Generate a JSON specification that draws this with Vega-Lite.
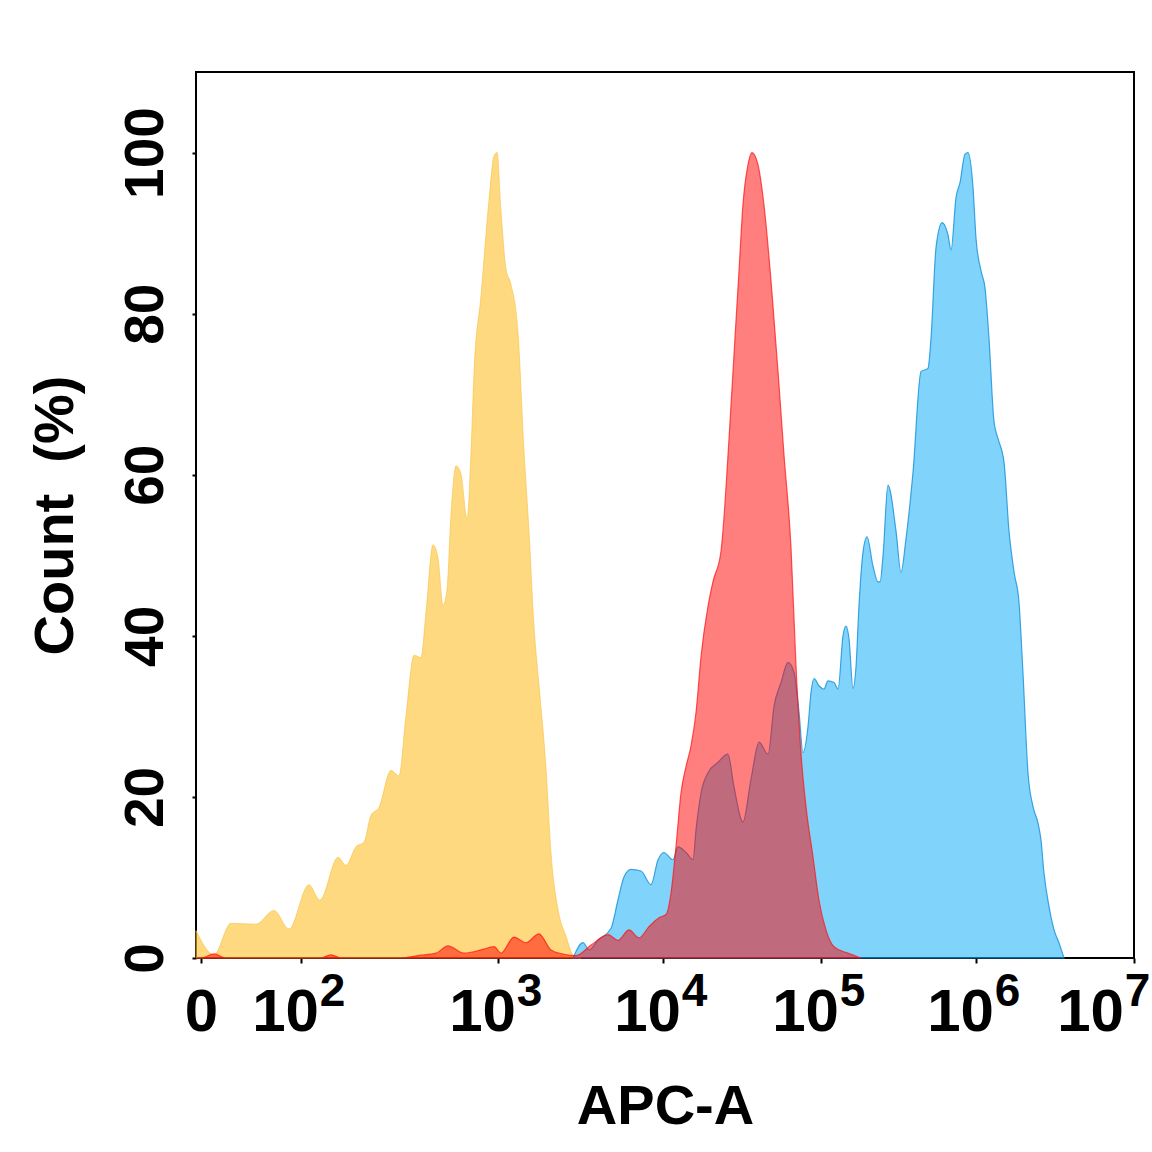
{
  "$schema": "https://vega.github.io/schema/vega-lite/v6.json",
  "width": 938,
  "height": 886,
  "autosize": "none",
  "padding": {"left": 196, "top": 72, "right": 18, "bottom": 194},
  "background": "white",
  "config": {
    "view": {"stroke": "black", "strokeWidth": 2},
    "axis": {
      "labelFont": "Liberation Sans",
      "titleFont": "Liberation Sans",
      "labelFontWeight": "bold",
      "titleFontWeight": "bold",
      "labelColor": "black",
      "titleColor": "black",
      "tickColor": "black",
      "domain": false,
      "grid": false,
      "labelFlush": false,
      "labelOverlap": false
    }
  },
  "datasets": {
    "control": [
      {"x": 0.95, "count": 3.4}, {"x": 1.13, "count": 0.4}, {"x": 1.30, "count": 4.3},
      {"x": 1.55, "count": 4.2}, {"x": 1.73, "count": 5.9}, {"x": 1.88, "count": 3.6},
      {"x": 2.04, "count": 9.1}, {"x": 2.096, "count": 7.2}, {"x": 2.188, "count": 12.5},
      {"x": 2.228, "count": 11.5}, {"x": 2.279, "count": 13.8}, {"x": 2.32, "count": 14.4},
      {"x": 2.355, "count": 17.7}, {"x": 2.396, "count": 18.7}, {"x": 2.457, "count": 23.3},
      {"x": 2.497, "count": 22.6}, {"x": 2.533, "count": 30.1}, {"x": 2.574, "count": 37.6},
      {"x": 2.609, "count": 37.3}, {"x": 2.635, "count": 43.1}, {"x": 2.67, "count": 51.3},
      {"x": 2.695, "count": 49.7}, {"x": 2.721, "count": 43.8}, {"x": 2.741, "count": 45.7},
      {"x": 2.761, "count": 54.9}, {"x": 2.787, "count": 61.1}, {"x": 2.812, "count": 60.1},
      {"x": 2.843, "count": 54.5}, {"x": 2.863, "count": 62.8}, {"x": 2.878, "count": 72.5},
      {"x": 2.914, "count": 82.3}, {"x": 2.954, "count": 94}, {"x": 2.98, "count": 99.6},
      {"x": 2.995, "count": 100}, {"x": 3.018, "count": 92.8}, {"x": 3.048, "count": 85.6},
      {"x": 3.079, "count": 83.6}, {"x": 3.121, "count": 77.7}, {"x": 3.158, "count": 62.8},
      {"x": 3.188, "count": 52.9}, {"x": 3.218, "count": 41.2}, {"x": 3.248, "count": 34},
      {"x": 3.291, "count": 23.5}, {"x": 3.321, "count": 13.1}, {"x": 3.364, "count": 6},
      {"x": 3.412, "count": 2.7}, {"x": 3.461, "count": 0.2}, {"x": 3.503, "count": 0}
    ],
    "low": [
      {"x": 0.95, "count": 0}, {"x": 1.0, "count": 0}, {"x": 1.13, "count": 0.5},
      {"x": 1.25, "count": 0}, {"x": 2.1, "count": 0}, {"x": 2.152, "count": 0.4},
      {"x": 2.203, "count": 0}, {"x": 2.508, "count": 0}, {"x": 2.594, "count": 0.3},
      {"x": 2.685, "count": 0.6}, {"x": 2.746, "count": 1.5}, {"x": 2.827, "count": 0.6},
      {"x": 2.914, "count": 1.0}, {"x": 2.98, "count": 1.4}, {"x": 3.018, "count": 0.6},
      {"x": 3.097, "count": 2.6}, {"x": 3.17, "count": 1.9}, {"x": 3.248, "count": 3.0},
      {"x": 3.321, "count": 1.0}, {"x": 3.394, "count": 0.5}, {"x": 3.473, "count": 0.3},
      {"x": 3.564, "count": 1.6}, {"x": 3.667, "count": 2.9}, {"x": 3.727, "count": 2.2},
      {"x": 3.794, "count": 3.5}, {"x": 3.855, "count": 2.5}, {"x": 3.915, "count": 3.9},
      {"x": 3.976, "count": 5.0}, {"x": 4.019, "count": 5.4}, {"x": 4.051, "count": 8.1},
      {"x": 4.082, "count": 13.8}, {"x": 4.114, "count": 20.5}, {"x": 4.146, "count": 23.8},
      {"x": 4.177, "count": 26.3}, {"x": 4.209, "count": 30.5}, {"x": 4.241, "count": 37.5},
      {"x": 4.285, "count": 43.7}, {"x": 4.316, "count": 46.7}, {"x": 4.367, "count": 50.5},
      {"x": 4.418, "count": 64.5}, {"x": 4.449, "count": 74.8}, {"x": 4.481, "count": 85.3},
      {"x": 4.506, "count": 93.5}, {"x": 4.538, "count": 98.5}, {"x": 4.563, "count": 100},
      {"x": 4.601, "count": 98.5}, {"x": 4.639, "count": 93.5}, {"x": 4.684, "count": 84},
      {"x": 4.728, "count": 72.8}, {"x": 4.766, "count": 62.4}, {"x": 4.81, "count": 51},
      {"x": 4.842, "count": 36.2}, {"x": 4.873, "count": 25.5}, {"x": 4.905, "count": 18.8},
      {"x": 4.949, "count": 12.6}, {"x": 4.987, "count": 7.2}, {"x": 5.032, "count": 3.5},
      {"x": 5.084, "count": 1.4}, {"x": 5.174, "count": 0.6}, {"x": 5.258, "count": 0}
    ],
    "high": [
      {"x": 3.455, "count": 0}, {"x": 3.515, "count": 1.9}, {"x": 3.552, "count": 1.0},
      {"x": 3.606, "count": 2.2}, {"x": 3.685, "count": 3.7}, {"x": 3.727, "count": 7.2},
      {"x": 3.764, "count": 10.1}, {"x": 3.806, "count": 11}, {"x": 3.867, "count": 10.8},
      {"x": 3.927, "count": 9.1}, {"x": 3.97, "count": 12.2}, {"x": 4.006, "count": 13.1},
      {"x": 4.063, "count": 12.2}, {"x": 4.095, "count": 13.8}, {"x": 4.146, "count": 13.1},
      {"x": 4.19, "count": 12.2}, {"x": 4.209, "count": 15.9}, {"x": 4.241, "count": 20.5},
      {"x": 4.285, "count": 23}, {"x": 4.348, "count": 24.3}, {"x": 4.411, "count": 25.3},
      {"x": 4.449, "count": 21.3}, {"x": 4.506, "count": 16.9}, {"x": 4.557, "count": 22.2},
      {"x": 4.608, "count": 26.8}, {"x": 4.665, "count": 25.3}, {"x": 4.703, "count": 31.3},
      {"x": 4.747, "count": 34.2}, {"x": 4.791, "count": 36.7}, {"x": 4.829, "count": 35.5},
      {"x": 4.861, "count": 30.5}, {"x": 4.886, "count": 25.5}, {"x": 4.918, "count": 28.8},
      {"x": 4.937, "count": 33}, {"x": 4.956, "count": 34.7}, {"x": 4.987, "count": 33.8},
      {"x": 5.019, "count": 33.4}, {"x": 5.045, "count": 34.4}, {"x": 5.084, "count": 34.2},
      {"x": 5.11, "count": 33.4}, {"x": 5.142, "count": 40}, {"x": 5.161, "count": 41.2},
      {"x": 5.181, "count": 39.6}, {"x": 5.206, "count": 33.5}, {"x": 5.226, "count": 36.2},
      {"x": 5.245, "count": 43.7}, {"x": 5.271, "count": 50.4}, {"x": 5.297, "count": 52.3},
      {"x": 5.335, "count": 48.7}, {"x": 5.368, "count": 46.7}, {"x": 5.381, "count": 46.7},
      {"x": 5.4, "count": 49.9}, {"x": 5.432, "count": 58.7}, {"x": 5.484, "count": 53},
      {"x": 5.516, "count": 47.9}, {"x": 5.548, "count": 52}, {"x": 5.594, "count": 60.4},
      {"x": 5.645, "count": 72.8}, {"x": 5.69, "count": 73.2}, {"x": 5.71, "count": 77},
      {"x": 5.742, "count": 88.2}, {"x": 5.781, "count": 91.3}, {"x": 5.819, "count": 89.8},
      {"x": 5.839, "count": 87.9}, {"x": 5.871, "count": 94.4}, {"x": 5.897, "count": 96.3},
      {"x": 5.929, "count": 99.8}, {"x": 5.948, "count": 100}, {"x": 5.981, "count": 95.6},
      {"x": 6.0, "count": 89.4}, {"x": 6.032, "count": 85.3}, {"x": 6.057, "count": 83.2},
      {"x": 6.082, "count": 77}, {"x": 6.114, "count": 66.6}, {"x": 6.139, "count": 64.5},
      {"x": 6.177, "count": 61.6}, {"x": 6.209, "count": 53}, {"x": 6.241, "count": 47.9},
      {"x": 6.272, "count": 44.2}, {"x": 6.297, "count": 35.5}, {"x": 6.329, "count": 23},
      {"x": 6.361, "count": 18.8}, {"x": 6.392, "count": 16.8}, {"x": 6.411, "count": 14.7},
      {"x": 6.43, "count": 10.6}, {"x": 6.462, "count": 6.4}, {"x": 6.494, "count": 3.5},
      {"x": 6.525, "count": 1.9}, {"x": 6.557, "count": 0}
    ]
  },
  "resolve": {"axis": {"x": "independent"}},
  "layer": [
    {
      "data": {"name": "control"},
      "mark": {
        "type": "area",
        "interpolate": "monotone",
        "color": "#FDB400",
        "fillOpacity": 0.5,
        "stroke": "#F8C040",
        "strokeWidth": 1,
        "strokeOpacity": 0.6
      },
      "encoding": {
        "x": {
          "field": "x",
          "type": "quantitative",
          "scale": {
            "domain": [0.95, 2, 3, 4, 5, 6, 7],
            "range": [0, 105, 302, 467, 625, 780, 938],
            "nice": false,
            "zero": false
          },
          "axis": {
            "orient": "bottom",
            "title": "APC-A",
            "titleFontSize": 56,
            "titleBaseline": "alphabetic",
            "titleY": 165,
            "values": [1, 2, 3, 4, 5, 6, 7],
            "labelExpr": "datum.value == 1 ? '0' : '10'",
            "labelFontSize": 60,
            "labelBaseline": "alphabetic",
            "labelPadding": 67,
            "tickSize": 5,
            "tickWidth": 2,
            "labelOffset": {
              "condition": [
                {"test": "datum.value == 1", "value": 0},
                {"test": "datum.value == 7", "value": -44}
              ],
              "value": -16
            }
          }
        },
        "y": {
          "field": "count",
          "type": "quantitative",
          "scale": {"domain": [0, 110], "nice": false},
          "axis": {
            "title": "Count \u00a0(%)",
            "titleFontSize": 56,
            "titleX": -124,
            "titleBaseline": "alphabetic",
            "values": [0, 20, 40, 60, 80, 100],
            "labelFontSize": 55,
            "labelAngle": 270,
            "labelAlign": "center",
            "labelBaseline": "alphabetic",
            "labelPadding": 30,
            "tickSize": 4,
            "tickWidth": 2
          }
        }
      }
    },
    {
      "data": {"name": "high"},
      "mark": {
        "type": "area",
        "interpolate": "monotone",
        "color": "#01A9F7",
        "fillOpacity": 0.5,
        "stroke": "#1590D8",
        "strokeWidth": 1.2,
        "strokeOpacity": 0.8
      },
      "encoding": {
        "x": {"field": "x", "type": "quantitative", "axis": null},
        "y": {"field": "count", "type": "quantitative"}
      }
    },
    {
      "data": {"name": "low"},
      "mark": {
        "type": "area",
        "interpolate": "monotone",
        "color": "#FF0000",
        "fillOpacity": 0.5,
        "stroke": "#FF1010",
        "strokeWidth": 1.2,
        "strokeOpacity": 0.7
      },
      "encoding": {
        "x": {
          "field": "x",
          "type": "quantitative",
          "axis": {
            "orient": "top",
            "offset": -933,
            "title": null,
            "ticks": false,
            "tickSize": 0,
            "values": [2, 3, 4, 5, 6, 7],
            "labelExpr": "'' + datum.value",
            "labelFontSize": 46,
            "labelBaseline": "alphabetic",
            "labelPadding": 0,
            "labelOffset": {
              "condition": {"test": "datum.value == 7", "value": 3},
              "value": 31
            }
          }
        },
        "y": {"field": "count", "type": "quantitative"}
      }
    }
  ]
}
